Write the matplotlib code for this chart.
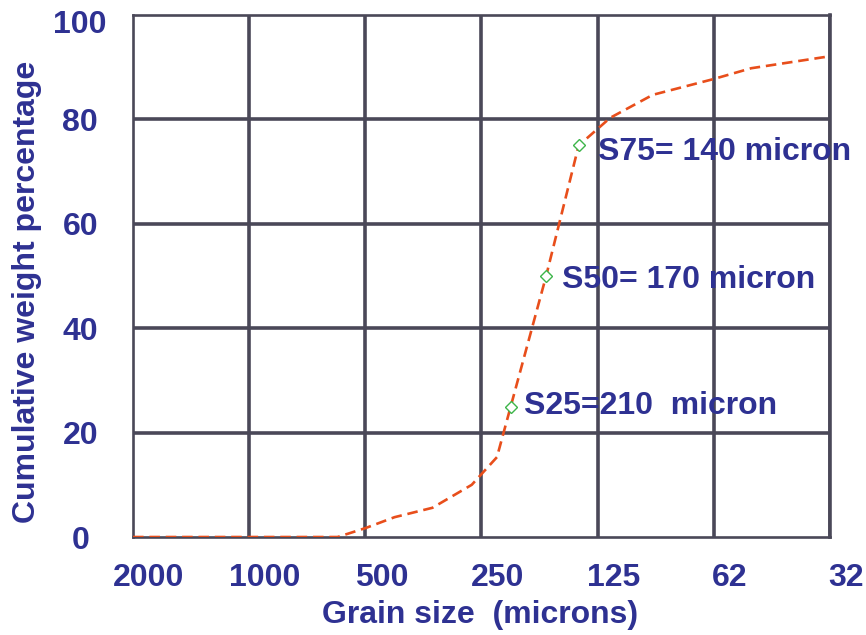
import numpy as np
import matplotlib
matplotlib.use("Agg")
import matplotlib.pyplot as plt
import matplotlib.transforms as mtransforms

# Data (grain size in microns, cumulative weight %)
sizes = [2000, 1000, 590, 500, 420, 335, 265, 228, 210, 170, 140, 116, 90, 62.8, 50, 31.25]
cum_pct = [0, 0, 0, 1.7, 3.8, 5.6, 10.0, 15.3, 25, 50, 75, 80.3, 84.7, 87.7, 89.8, 92.1]

marker_sizes = [210, 170, 140]
marker_pct = [25, 50, 75]
marker_labels = ["S25=210  micron", "S50= 170 micron", "S75= 140 micron"]

tick_sizes = [2000, 1000, 500, 250, 125, 62.5, 31.25]
tick_labels = ["2000", "1000", "500", "250", "125", "62", "32"]
y_ticks = [0, 20, 40, 60, 80, 100]

def to_pos(s):
    return np.log2(2000.0 / np.asarray(s, dtype=float))

plt.rcParams['font.family'] = ['Liberation Sans', 'DejaVu Sans']
txt_color = '#2E3192'
grid_color = '#4A4858'
fs = 23

fig = plt.figure(figsize=(8.66, 6.35), dpi=100)
ax = fig.add_axes([0.1536, 0.1543, 0.8048, 0.8221])

ax.plot(to_pos(sizes), cum_pct, color='#E84E1B', lw=1.9, dashes=(4, 2.2), zorder=3)
ax.plot(to_pos(marker_sizes), marker_pct, linestyle='none', marker='D', ms=6,
        mfc='white', mec='#3DB54A', mew=1.0, zorder=4)

label_offsets = [(3.37, 25.1), (3.69, 49.2), (4.0, 73.8)]
for (tx, ty), lab in zip(label_offsets, marker_labels):
    ax.text(tx, ty, lab, fontsize=fs, fontweight='bold', color=txt_color,
            ha='left', va='center', zorder=5)

ax.set_xlim(0, 6)
ax.set_ylim(0, 100)
ax.set_xticks(to_pos(tick_sizes))
ax.set_xticklabels(tick_labels)
ax.set_yticks(y_ticks)
ax.tick_params(axis='both', length=0, labelsize=fs, labelcolor=txt_color)
ax.tick_params(axis='x', pad=19)
ax.tick_params(axis='y', pad=38)

xoff = mtransforms.ScaledTranslation(16 / 100, 0, fig.dpi_scale_trans)
for lab in ax.get_xticklabels():
    lab.set_fontweight('bold')
    lab.set_transform(lab.get_transform() + xoff)
ylabs = ax.get_yticklabels()
for lab in ylabs:
    lab.set_fontweight('bold')
    lab.set_horizontalalignment('center')
ydown = mtransforms.ScaledTranslation(0, -7 / 100, fig.dpi_scale_trans)
ylabs[-1].set_transform(ylabs[-1].get_transform() + ydown)

for p in to_pos(tick_sizes)[1:]:
    ax.axvline(p, color=grid_color, lw=2.6, zorder=1)
for yv in y_ticks[1:-1]:
    ax.axhline(yv, color=grid_color, lw=2.6, zorder=1)

for side in ['left', 'bottom', 'top']:
    ax.spines[side].set_color(grid_color)
    ax.spines[side].set_linewidth(1.9)
ax.spines['right'].set_color(grid_color)
ax.spines['right'].set_linewidth(2.6)

fig.text(480 / 866, 1 - 615 / 635, "Grain size  (microns)", fontsize=fs, fontweight='bold',
         color=txt_color, ha='center', va='center')
fig.text(27 / 866, 1 - 292 / 635, "Cumulative weight percentage", fontsize=fs, fontweight='bold',
         color=txt_color, ha='center', va='center', rotation=90)

fig.savefig("out.png", dpi=100)
